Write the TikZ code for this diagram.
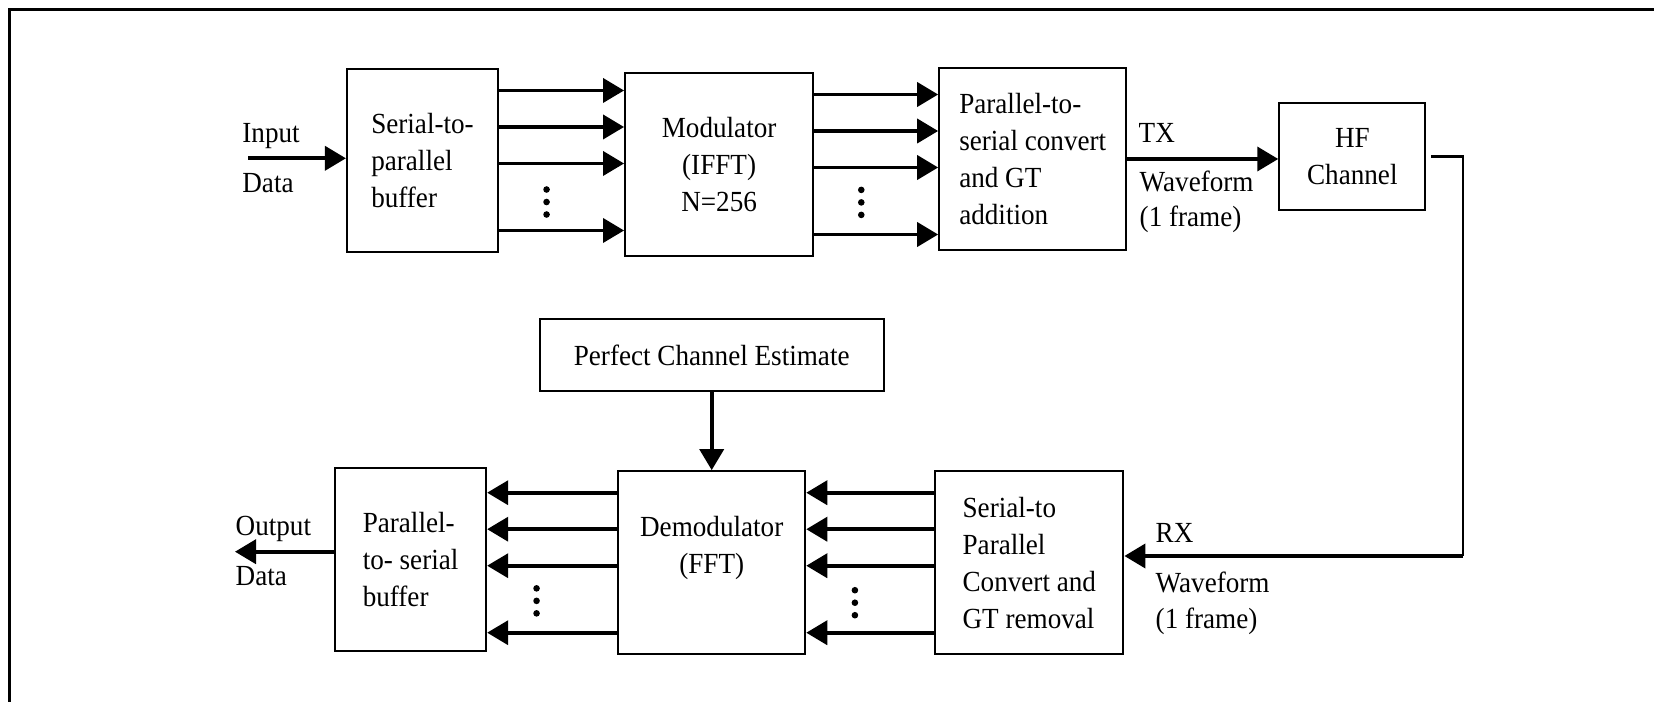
\documentclass[tikz,border=0pt]{standalone}
\usepackage{fontspec}
\setmainfont{Liberation Serif}[FakeStretch=0.93]
\usetikzlibrary{positioning,arrows.meta,calc}
\begin{document}
\begin{tikzpicture}[box/.style = {draw, line width=0.6pt, inner sep=0pt, font=\fontsize{8.3}{10.5}\selectfont},
                    txt/.style = {inner sep=0pt, font=\fontsize{8.3}{10.5}\selectfont},
                    lbl/.style = {txt, anchor=base west},
                    bus/.style = {line width=1.05pt, -{Triangle[length=0.21cm,width=0.24cm]}},
                    wire/.style = {line width=0.75pt}]
                \useasboundingbox (0,0) rectangle (16.54,-7.02);
                \draw[line width=0.85pt] (0.093,-7.1) |- (16.6,-0.10);
                \node[box, minimum width=1.51cm, minimum height=1.83cm, align=left] (1) at (4.225,-1.605) {Serial-to-\\parallel\\buffer};
                \node[box, minimum width=1.88cm, minimum height=1.83cm, align=center] (2) [right=1.25cm of 1, yshift=-0.04cm] {Modulator\\(IFFT)\\N=256};
                \node[box, minimum width=1.87cm, minimum height=1.82cm, align=left] (3) [right=1.24cm of 2, yshift=0.055cm] {Parallel-to-\\serial convert\\and GT\\addition};
                \node[box, minimum width=1.46cm, minimum height=1.07cm, align=center] (4) [right=1.51cm of 3, yshift=0.025cm] {HF\\Channel};
                \node[box, minimum width=3.44cm, minimum height=0.72cm] (8) [below=0.61cm of 2, xshift=-0.074cm] {Perfect Channel Estimate};
                \node[box, minimum width=1.87cm, minimum height=1.83cm] (6) [below=0.78cm of 8] {};
                \node[txt, align=center] (6t) at ([yshift=0.15cm]6.center) {Demodulator\\(FFT)};
                \node[box, minimum width=1.88cm, minimum height=1.83cm, align=left] (5) [right=1.28cm of 6] {Serial-to\\Parallel\\Convert and\\GT removal};
                \node[box, minimum width=1.51cm, minimum height=1.83cm, align=left] (7) [left=1.30cm of 6, yshift=0.03cm] {Parallel-\\to- serial\\buffer};
                \node[lbl] (in1) at (2.417,-1.43) {Input};
                \node[lbl] (in2) at (2.417,-1.93) {Data};
                \node[lbl] (out1) at (2.35,-5.35) {Output};
                \node[lbl] (out2) at (2.35,-5.85) {Data};
                \node[lbl] (tx1) at (11.38,-1.43) {TX};
                \node[lbl] (tx2) at (11.39,-1.92) {Waveform};
                \node[lbl] (tx3) at (11.39,-2.27) {(1 frame)};
                \node[lbl] (rx1) at (11.55,-5.43) {RX};
                \node[lbl] (rx2) at (11.55,-5.92) {Waveform};
                \node[lbl] (rx3) at (11.55,-6.28) {(1 frame)};
                \coordinate (a) at (2.483,-1.583);
                \coordinate (b) at (2.35,-5.517);
                \coordinate (c) at (14.63,-5.56);
                \draw[bus] (a) -- (a -| 1.west);
                \draw[bus] (b -| 7.west) -- (b);
                \draw[bus] (3.east) -- (3.east -| 4.west);
                \draw[wire, line join=miter] ([xshift=0.05cm]4.east) -| (c);
                \draw[bus] (c) -- (c -| 5.east);
                \draw[bus] (8) -- (6);
                \foreach \d in {0.70,0.335,-0.03,-0.70} {
                    \draw[bus] ([yshift=\d cm]1.east) -- ([yshift=\d cm]1.east -| 2.west);
                    \draw[bus] ([yshift=\d cm]2.east) -- ([yshift=\d cm]2.east -| 3.west);
                    \draw[bus] ([yshift=\d cm]5.west) -- ([yshift=\d cm]5.west -| 6.east);
                    \draw[bus] ([yshift=\d cm]6.west) -- ([yshift=\d cm]6.west -| 7.east);
                }
                \foreach \p/\q in {1/2,2/3,7/6,6/5}
                    \foreach \k in {-1,0,1}
                        \fill ($(\p.east)!0.38!(\q.west)+(0,-0.40+0.125*\k)$) circle (0.033);
            \end{tikzpicture}
\end{document}
